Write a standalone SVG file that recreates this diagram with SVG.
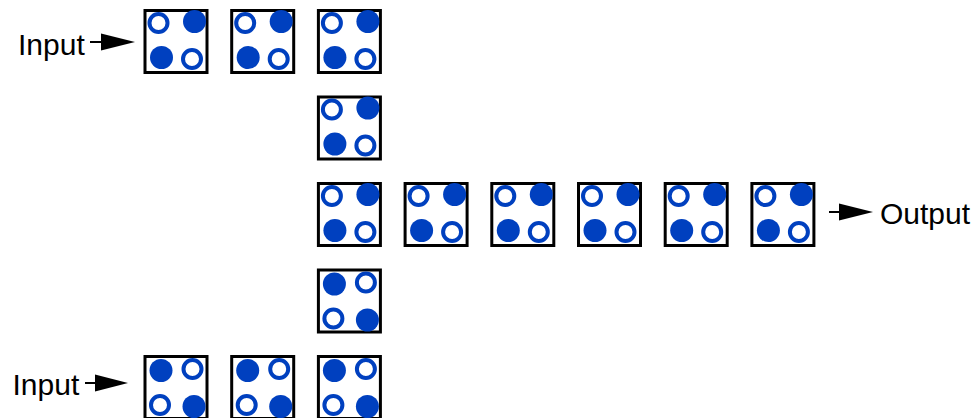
<svg xmlns="http://www.w3.org/2000/svg" width="974" height="418" viewBox="0 0 974 418">
<defs>
<style>
.box{fill:#fff;stroke:#000;stroke-width:3}
.f{fill:#0040BF}
.o{fill:#fff;stroke:#0040BF;stroke-width:4}
.lbl{font-family:"Liberation Sans",Arial,sans-serif;font-size:30px;fill:#000}
.ln{stroke:#000;stroke-width:2;fill:none}
.hd{fill:#000}
</style>
<g id="pA">
<rect class="box" x="1.5" y="1.5" width="62" height="62"/>
<circle class="o" cx="15" cy="14" r="9"/>
<circle class="f" cx="51" cy="12.5" r="11.5"/>
<circle class="f" cx="18" cy="48.5" r="11.5"/>
<circle class="o" cx="48.5" cy="50" r="9"/>
</g>
<g id="pB">
<rect class="box" x="1.5" y="1.5" width="62" height="62"/>
<circle class="f" cx="17.5" cy="15.5" r="11.5"/>
<circle class="o" cx="49" cy="14" r="9"/>
<circle class="o" cx="16.5" cy="50" r="9"/>
<circle class="f" cx="50.5" cy="51.5" r="11.5"/>
</g>
</defs>
<rect width="974" height="418" fill="#fff"/>
<g id="input-top"><text class="lbl" x="18" y="55">Input</text></g>
<g id="input-bottom"><text class="lbl" x="12.5" y="395">Input</text></g>
<g id="output"><text class="lbl" x="880" y="224">Output</text></g>
<g id="n1"><use href="#pA" x="143.5" y="9"/></g>
<g id="n2"><use href="#pA" x="230.2" y="9"/></g>
<g id="n3"><use href="#pA" x="316.9" y="9"/></g>
<g id="n4"><use href="#pA" x="316.9" y="95.5"/></g>
<g id="n5"><use href="#pA" x="316.9" y="182"/></g>
<g id="n6"><use href="#pA" x="403.6" y="182"/></g>
<g id="n7"><use href="#pA" x="490.3" y="182"/></g>
<g id="n8"><use href="#pA" x="577" y="182"/></g>
<g id="n9"><use href="#pA" x="663.7" y="182"/></g>
<g id="n10"><use href="#pA" x="750.4" y="182"/></g>
<g id="n11"><use href="#pB" x="316.9" y="268.5"/></g>
<g id="n12"><use href="#pB" x="143.5" y="355"/></g>
<g id="n13"><use href="#pB" x="230.2" y="355"/></g>
<g id="n14"><use href="#pB" x="316.9" y="355"/></g>
<g id="connectors">
<line class="ln" x1="90" y1="42" x2="102" y2="42"/>
<path class="hd" d="M101,33.5 L135,42 L101,50.5 Z"/>
<line class="ln" x1="85" y1="383" x2="96" y2="383"/>
<path class="hd" d="M95,374.5 L128,383 L95,391.5 Z"/>
<line class="ln" x1="829" y1="212" x2="840" y2="212"/>
<path class="hd" d="M839,203.5 L873,212 L839,220.5 Z"/>
</g>
</svg>
